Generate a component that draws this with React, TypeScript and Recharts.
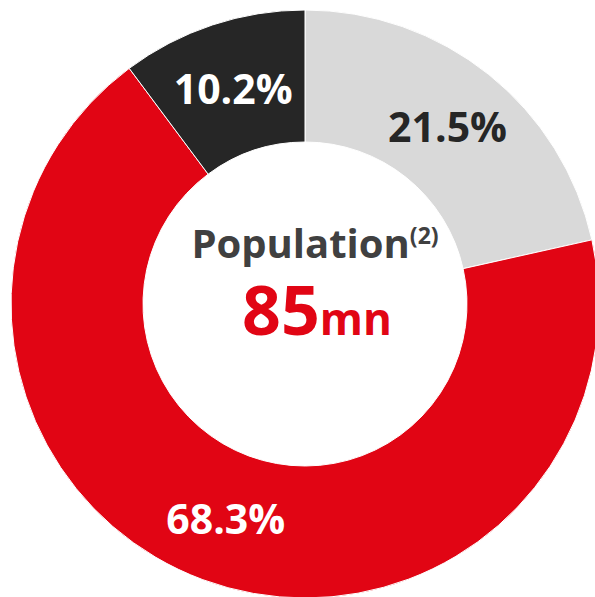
import React from "react";
import { PieChart, Pie, Cell } from "recharts";

const categories = ["Segment A", "Segment B", "Segment C"];
const shares = [21.5, 68.3, 10.2];
const labels = ["21.5%", "68.3%", "10.2%"];
const colors = ["#d9d9d9", "#e10514", "#262626"];
const labelColors = ["#262626", "#ffffff", "#ffffff"];
const centerTitle = "Population";
const centerNote = "(2)";
const centerValue = "85";
const centerUnit = "mn";

const data = categories.map((name, i) => ({ name, value: shares[i], label: labels[i] }));

const FONT = "'Open Sans', 'Noto Sans', sans-serif";
const RAD = Math.PI / 180;
const CX = 305;
const CY = 304;

const renderLabel = (props: any) => {
  const { cx, cy, midAngle, innerRadius, outerRadius, index } = props;
  const r = (innerRadius + outerRadius) / 2;
  const x = cx + r * Math.cos(-midAngle * RAD);
  const y = cy + r * Math.sin(-midAngle * RAD);
  return (
    <text
      x={x}
      y={y}
      textAnchor="middle"
      dominantBaseline="central"
      fill={labelColors[index]}
      fontSize={41}
      fontWeight={700}
      fontFamily={FONT}
    >
      {labels[index]}
    </text>
  );
};

export default function App() {
  return (
    <div style={{ position: "absolute", left: 0, top: 0, width: 595, height: 597, background: "#fff" }}>
      <PieChart width={595} height={597} margin={{ top: 0, right: 0, bottom: 0, left: 0 }}>
        <Pie
          data={data}
          dataKey="value"
          nameKey="name"
          cx={CX}
          cy={CY}
          innerRadius={162}
          outerRadius={294}
          startAngle={90}
          endAngle={-270}
          stroke="#ffffff"
          strokeWidth={1}
          label={renderLabel}
          labelLine={false}
          isAnimationActive={false}
        >
          {data.map((d, i) => (
            <Cell key={d.name} fill={colors[i]} />
          ))}
        </Pie>
      </PieChart>
      <svg
        width={595}
        height={597}
        style={{ position: "absolute", left: 0, top: 0, pointerEvents: "none" }}
      >
        <g fontFamily={FONT} fontWeight={700}>
          <text x={CX + 10} y={CY - 46} textAnchor="middle" fill="#404040" fontSize={40}>
            <tspan>{centerTitle}</tspan>
            <tspan dy={-14} fontSize={23}>{centerNote}</tspan>
          </text>
          <text x={CX + 12} y={CY + 31} textAnchor="middle" fill="#e10514">
            <tspan fontSize={68}>{centerValue}</tspan>
            <tspan fontSize={44}>{centerUnit}</tspan>
          </text>
        </g>
      </svg>
    </div>
  );
}
